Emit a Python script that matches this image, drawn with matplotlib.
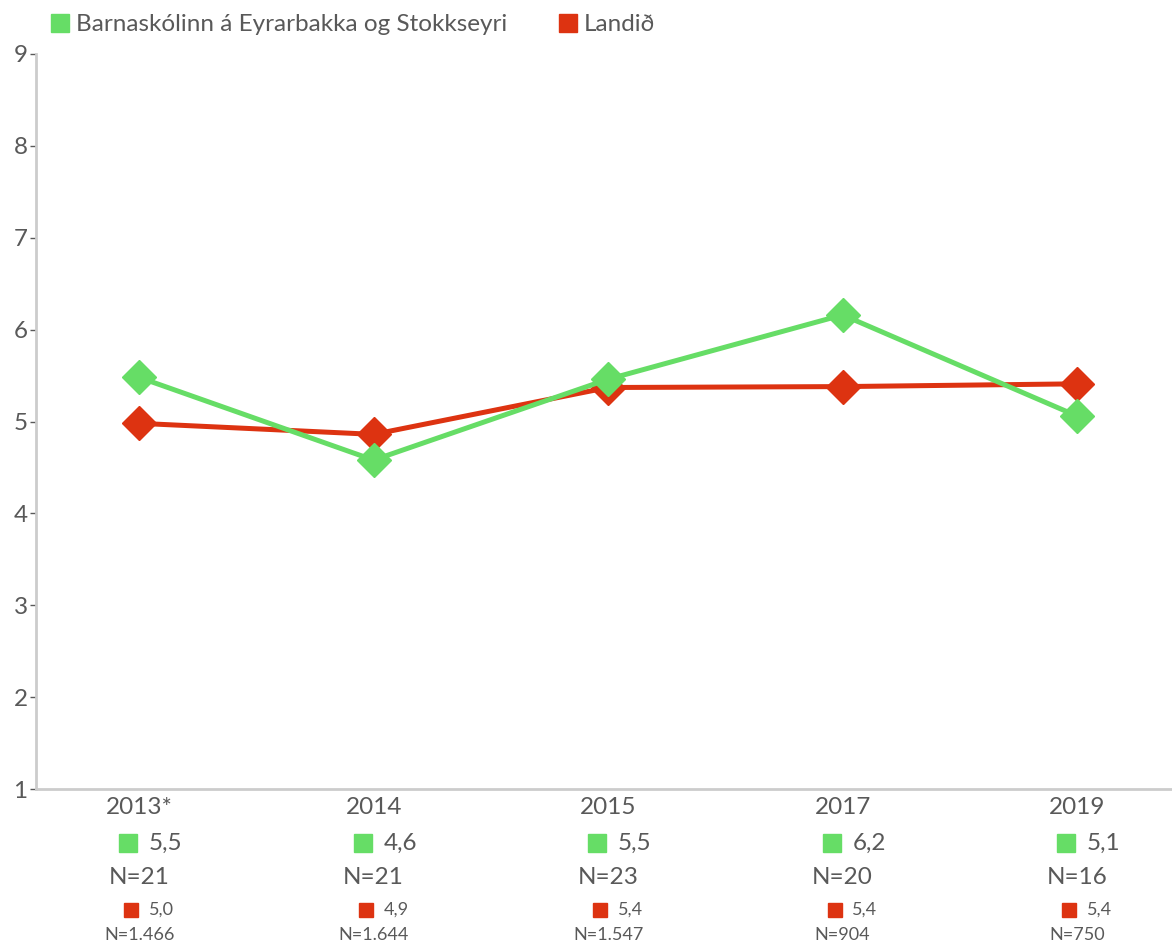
import matplotlib

matplotlib.use("Agg")
import matplotlib.pyplot as plt
from matplotlib.lines import Line2D
from matplotlib.transforms import ScaledTranslation

plt.rcParams["font.family"] = ["Lato", "DejaVu Sans"]

# --- data ---
years = ["2013*", "2014", "2015", "2017", "2019"]
school_name = "Barnaskólinn á Eyrarbakka og Stokkseyri"
country_name = "Landið"
school_vals = [5.48, 4.58, 5.46, 6.16, 5.06]
country_vals = [4.98, 4.86, 5.37, 5.38, 5.41]
school_n = ["21", "21", "23", "20", "16"]
country_n = ["1.466", "1.644", "1.547", "904", "750"]

GREEN = "#66dd66"
RED = "#dd3311"
TEXT = "#595959"
AXIS = "#cccccc"
BIG = 17.5
SMALL = 13


def fmt(v):
    return f"{v:.1f}".replace(".", ",")


fig = plt.figure(figsize=(11.72, 9.44), dpi=100)
ax = fig.add_axes([36 / 1172, 155 / 944, 1 - 36 / 1172, (789 - 54) / 944])

x = list(range(len(years)))
ax.plot(x, country_vals, color=RED, lw=3.6, marker="D", ms=17, zorder=3)
ax.plot(x, school_vals, color=GREEN, lw=3.6, marker="D", ms=17, zorder=4)

ax.set_xlim(-0.44, 4.405)
ax.set_ylim(1, 9)
ax.set_yticks(range(1, 10))
ax.set_xticks([])
ax.tick_params(axis="y", labelsize=BIG, labelcolor=TEXT, color=TEXT,
               length=4, width=1, pad=2)
for s in ("top", "right"):
    ax.spines[s].set_visible(False)
for s in ("left", "bottom"):
    ax.spines[s].set_color(AXIS)
    ax.spines[s].set_linewidth(2)


def square(xpos, dy, size, color):
    """Colour key square placed dy points below the x axis."""
    m = ax.plot([xpos], [0], marker="s", ms=size, color=color,
                clip_on=False, lw=0)[0]
    m.set_transform(ax.get_xaxis_transform()
                    + ScaledTranslation(0, -dy / 72, fig.dpi_scale_trans))


# value table under each year
for i, yr in enumerate(years):
    kw = dict(xy=(i, 0), xycoords=("data", "axes fraction"),
              textcoords="offset points", annotation_clip=False, color=TEXT)
    ax.annotate(yr, xytext=(0, -13), ha="center", va="center",
                fontsize=BIG, **kw)
    square(i - 0.047, 39, 13, GREEN)
    ax.annotate(fmt(school_vals[i]), xytext=(7, -39), ha="left", va="center",
                fontsize=BIG, **kw)
    ax.annotate("N=" + school_n[i], xytext=(0, -64), ha="center", va="center",
                fontsize=BIG, **kw)
    square(i - 0.034, 87, 10, RED)
    ax.annotate(fmt(country_vals[i]), xytext=(7, -87), ha="left", va="center",
                fontsize=SMALL, **kw)
    ax.annotate("N=" + country_n[i], xytext=(0, -105), ha="center",
                va="center", fontsize=SMALL, **kw)

handles = [
    Line2D([], [], color=GREEN, marker="s", ms=13, lw=0),
    Line2D([], [], color=RED, marker="s", ms=13, lw=0),
]
fig.legend(handles, [school_name, country_name], loc="upper left",
           bbox_to_anchor=(0.022, 1.008), ncol=2, frameon=False, fontsize=BIG,
           labelcolor=TEXT, handletextpad=0.15, columnspacing=2.0,
           handlelength=1.0)

fig.savefig("out.png", dpi=100)
